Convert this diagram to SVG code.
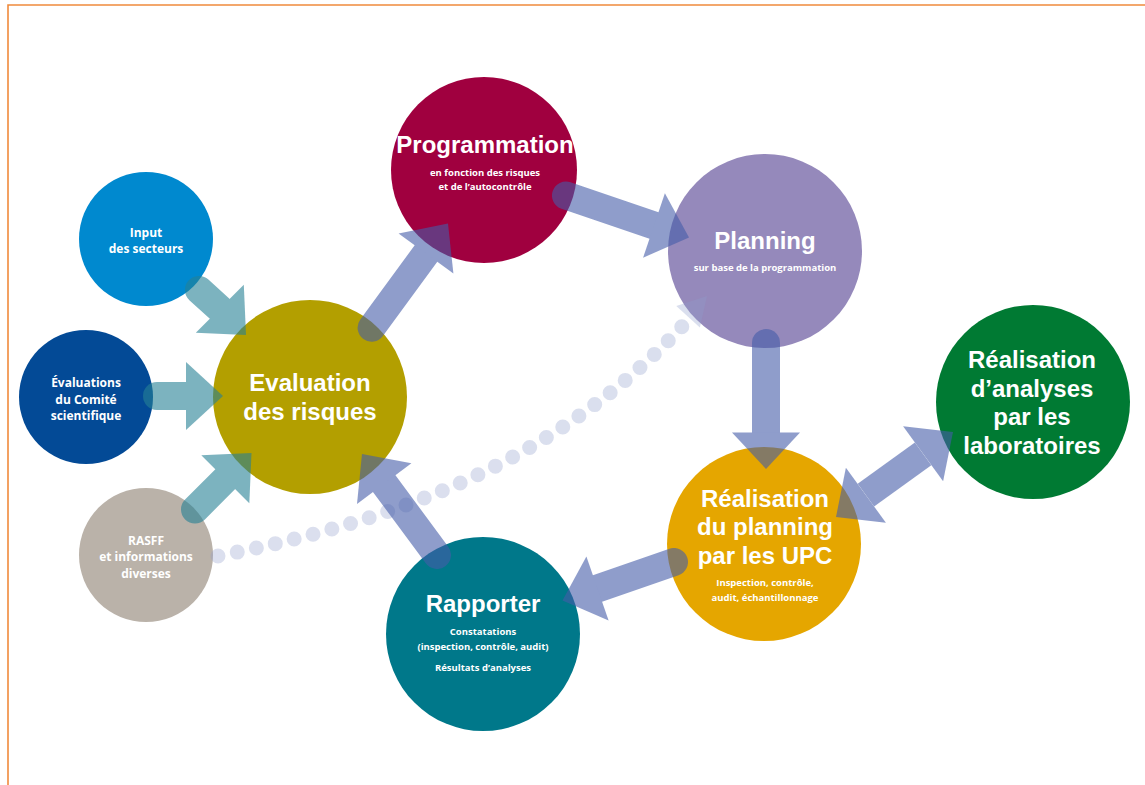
<svg xmlns="http://www.w3.org/2000/svg" width="1145" height="785" viewBox="0 0 1145 785">
<style>
text{font-family:"Open Sans","Liberation Sans",sans-serif;font-weight:700;fill:#fff;text-anchor:middle}
.big{font-family:"Liberation Sans",Arial,sans-serif;font-size:24px}
.mid{font-size:12px}
.sm{font-size:9.5px}
.blue{fill:#455da9}
.blue line{stroke:#455da9;stroke-width:28;stroke-linecap:round}
.teal{fill:#268195}
.teal line{stroke:#268195;stroke-width:28;stroke-linecap:round}
.arw{opacity:0.6}
</style>
<rect width="1145" height="785" fill="#fff"/>
<path d="M8 785V5H1145" fill="none" stroke="#f08a3c" stroke-width="1.6"/>

<g id="n-programmation">
<circle cx="484" cy="170" r="93" fill="#a0003f"/>
<text class="big" x="485" y="153">Programmation</text>
<text class="sm" x="485" y="176">en fonction des risques</text>
<text class="sm" x="485" y="190">et de l’autocontrôle</text>
</g>
<g id="n-planning">
<circle cx="765" cy="251" r="97" fill="#9589bb"/>
<text class="big" x="765" y="249">Planning</text>
<text class="sm" x="765" y="271">sur base de la programmation</text>
</g>
<g id="n-labo">
<circle cx="1033" cy="402" r="97" fill="#007a33"/>
<text class="big" x="1032" y="368">Réalisation</text>
<text class="big" x="1032" y="397">d’analyses</text>
<text class="big" x="1032" y="425">par les</text>
<text class="big" x="1032" y="454">laboratoires</text>
</g>
<g id="n-upc">
<circle cx="764" cy="544" r="97" fill="#e5a600"/>
<text class="big" x="765" y="507">Réalisation</text>
<text class="big" x="765" y="535">du planning</text>
<text class="big" x="765" y="564">par les UPC</text>
<text class="sm" x="765" y="586">Inspection, contrôle,</text>
<text class="sm" x="765" y="601">audit, échantillonnage</text>
</g>
<g id="n-rapporter">
<circle cx="483" cy="634" r="97" fill="#00788a"/>
<text class="big" x="483" y="612">Rapporter</text>
<text class="sm" x="483" y="635">Constatations</text>
<text class="sm" x="483" y="650">(inspection, contrôle, audit)</text>
<text class="sm" x="483" y="671">Résultats d’analyses</text>
</g>
<g id="n-evaluation">
<circle cx="310" cy="397" r="97" fill="#b39f00"/>
<text class="big" x="310" y="391">Evaluation</text>
<text class="big" x="310" y="420">des risques</text>
</g>
<g id="n-input">
<circle cx="146" cy="239" r="67" fill="#0089cf"/>
<text class="mid" x="146" y="237">Input</text>
<text class="mid" x="146" y="253">des secteurs</text>
</g>
<g id="n-comite">
<circle cx="86" cy="397" r="67" fill="#034a96"/>
<text class="mid" x="86" y="387">Évaluations</text>
<text class="mid" x="86" y="404">du Comité</text>
<text class="mid" x="86" y="420">scientifique</text>
</g>
<g id="n-rasff">
<circle cx="146" cy="555" r="67" fill="#bab2a9"/>
<text class="mid" x="146" y="545">RASFF</text>
<text class="mid" x="146" y="561">et informations</text>
<text class="mid" x="146" y="578">diverses</text>
</g>

<g id="connectors">
<g id="c-dotted" opacity="0.32">
<path d="M218 556C400 520 560 460 688 320" fill="none" stroke="#8f9dcb" stroke-width="15" stroke-linecap="round" stroke-dasharray="0 19.5"/>
<polygon points="707,296 699.9,327.5 676.3,305.9" fill="#8f9dcb"/>
</g>
<g class="arw teal"><line x1="199" y1="290" x2="219.8" y2="308.8"/><polygon points="195.8,332.8 246,335 243.8,284.8"/></g>
<g class="arw teal"><line x1="157" y1="396" x2="186" y2="396"/><polygon points="186,362 223,396 186,430"/></g>
<g class="arw teal"><line x1="195" y1="509.5" x2="225.3" y2="479.2"/><polygon points="249.3,503.2 251.5,453 201.3,455.2"/></g>
<g class="arw blue"><line x1="371.6" y1="327.7" x2="426" y2="253.5"/><polygon points="453.4,273.6 448,223.6 398.6,233.4"/></g>
<g class="arw blue"><line x1="566" y1="195.6" x2="654" y2="225.5"/><polygon points="643.1,257.7 689,237.4 664.9,193.3"/></g>
<g class="arw blue"><line x1="766" y1="343" x2="766" y2="432.5"/><polygon points="732,432.5 766,469 800,432.5"/></g>
<g class="arw blue"><line x1="865.9" y1="495.2" x2="923.1" y2="453.8" style="stroke-linecap:butt"/><polygon points="836,517 885.9,522.7 845.9,467.7"/><polygon points="953,432 943.1,481.3 903.1,426.3"/></g>
<g class="arw blue"><line x1="674" y1="562" x2="597.5" y2="588.5"/><polygon points="608.6,620.6 562.5,600.6 586.4,556.4"/></g>
<g class="arw blue"><line x1="437" y1="555" x2="384.2" y2="483.6"/><polygon points="411.4,463.2 362,454 357,504"/></g>
</g>
</svg>
